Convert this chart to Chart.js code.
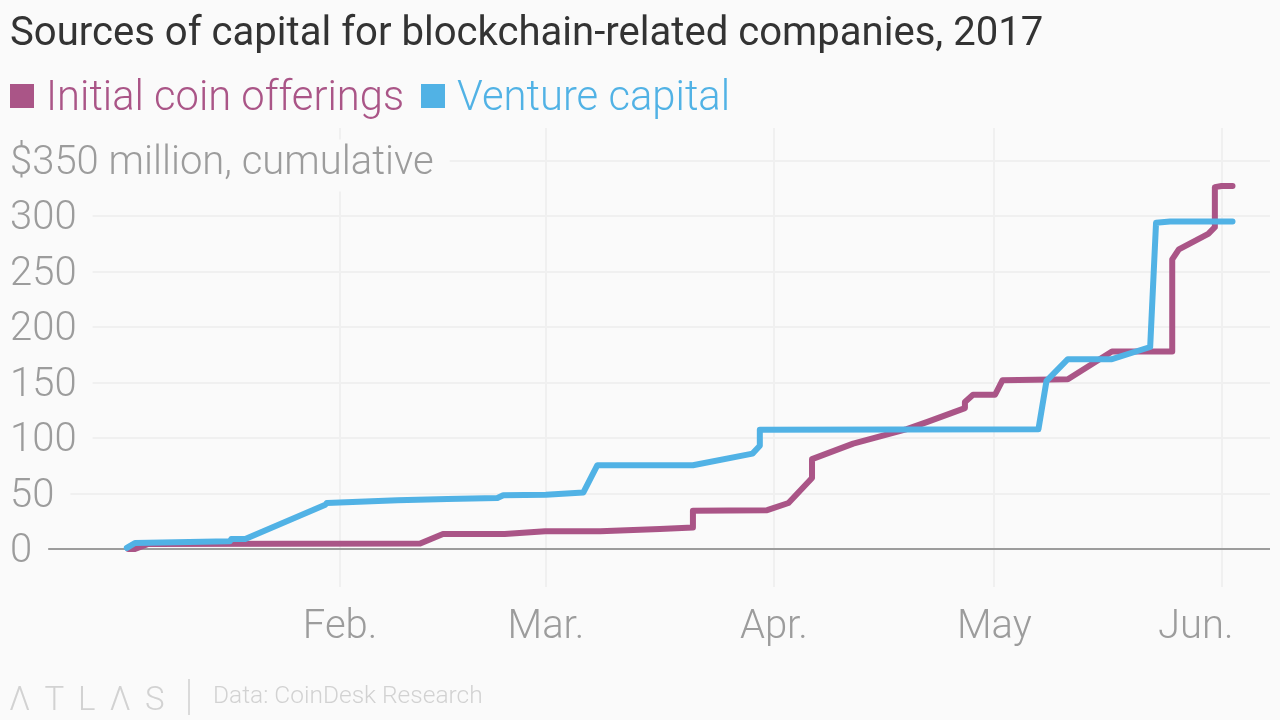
<!DOCTYPE html>
<html>
<head>
<meta charset="utf-8">
<script src="https://cdn.jsdelivr.net/npm/chart.js@4/dist/chart.umd.min.js"></script>
<style>
html,body{margin:0;padding:0;background:#fafafa;overflow:hidden}
#wrap{position:relative;width:1280px;height:720px}
canvas{position:absolute;left:0;top:0}
.txt{position:absolute;font-family:Roboto,sans-serif;white-space:nowrap;line-height:1}
#title{left:10px;top:12px;font-size:40.1px;font-weight:400;color:#333}
#leg1{left:46px;top:75px;font-size:41.7px;font-weight:300;color:#aa5587}
#leg2{left:457px;top:75px;font-size:41.8px;font-weight:300;color:#51b2e5}
.box{position:absolute;top:84px;width:24px;height:24px}
#logo{left:9px;top:682px;font-size:33px;font-weight:300;color:#d2d2d2;letter-spacing:14px}
#rule{position:absolute;left:188px;top:679px;width:2px;height:36px;background:#dadada}
#source{left:213px;top:683px;font-size:24.5px;font-weight:300;color:#d2d2d2}
</style>
</head>
<body>
<div id="wrap">
<canvas id="chart" width="1280" height="720"></canvas>
<div class="txt" id="title">Sources of capital for blockchain-related companies, 2017</div>
<div class="box" style="left:10px;background:#aa5587"></div>
<div class="txt" id="leg1">Initial coin offerings</div>
<div class="box" style="left:421px;background:#51b2e5"></div>
<div class="txt" id="leg2">Venture capital</div>
<div class="txt" id="logo">ΛTLΛS</div>
<div id="rule"></div>
<div class="txt" id="source">Data: CoinDesk Research</div>
</div>
<script>
// days counted from Jan. 1 2017
const icoDays=[2.2,3.1,4.9,41.9,45,53.4,58.9,66.4,74.5,79,79,89.1,92,95.2,95.2,100.8,108.1,110.9,116,116,117.1,120.1,121.1,130,136,144.2,144.2,145.1,149.1,150,150,150.9,152.4];
const icoValues=[0,0,4.5,5,13.5,13.5,16,16,18,19.5,34.5,35,41.5,64,81,95,108,114.5,127,132.5,139,139,152,153,178,178,261,270,284,290,326,327,327];
const vcDays=[2,3.1,16,16.2,18.1,29,29.2,38.8,45.6,52.4,53.2,59,64.1,66,79,87.1,88.1,88.1,126,127.1,130,136,141.2,142,143.9,152.4];
const vcValues=[1,5.5,7,9,9,40,41.5,44,45,46,48.5,49,51,75.5,75.5,86,93,107.5,108,151.5,171,171,182,294,295,295];
const yTicks=[0,50,100,150,200,250,300,350];
const yLabels=['0','50','100','150','200','250','300','$350 million, cumulative'];
// Jun. label sits left of its gridline, so it gets its own tick
const xTicks=[31,59,90,120,147.4,151];
const xLabels=['Feb.','Mar.','Apr.','May','Jun.',''];
const xNoGrid=147.4;

const toPoints=(xs,ys)=>xs.map((x,i)=>({x,y:ys[i]}));
const PURPLE='#aa5587',BLUE='#51b2e5',GREY='#9c9c9c',GRID='#f0f0f0',BG='#fafafa';
const TICKFONT='Roboto, sans-serif';

new Chart(document.getElementById('chart').getContext('2d'),{
  type:'line',
  data:{datasets:[
    {label:'Initial coin offerings',data:toPoints(icoDays,icoValues),borderColor:PURPLE,backgroundColor:PURPLE,order:2},
    {label:'Venture capital',data:toPoints(vcDays,vcValues),borderColor:BLUE,backgroundColor:BLUE,order:1},
  ]},
  options:{
    responsive:false,animation:false,
    layout:{padding:{left:10,right:10,top:128,bottom:73}},
    elements:{
      point:{radius:0},
      line:{borderWidth:6,tension:0,borderCapStyle:'round',borderJoinStyle:'round'},
    },
    plugins:{tooltip:{enabled:false},title:{display:false},legend:{display:false}},
    scales:{
      x:{type:'linear',min:-13.9,max:157.5,
        afterBuildTicks:s=>{s.ticks=xTicks.map(value=>({value}));},
        afterFit:s=>{s.height=60;},
        border:{display:false},
        grid:{drawTicks:false,lineWidth:2,color:c=>c.tick&&c.tick.value===xNoGrid?'rgba(0,0,0,0)':GRID},
        ticks:{autoSkip:false,maxRotation:0,color:GREY,padding:17,font:{family:TICKFONT,size:40,weight:'300'},
          callback:(v,i)=>xLabels[i]},
      },
      y:{min:-34.2,max:379.3,
        afterBuildTicks:s=>{s.ticks=yTicks.map(value=>({value}));},
        afterFit:s=>{s.width=0;},
        border:{display:false},
        grid:{drawTicks:false,lineWidth:2,color:c=>c.tick&&c.tick.value===0?GREY:GRID},
        ticks:{mirror:true,autoSkip:false,padding:0,color:GREY,labelOffset:3,font:{family:TICKFONT,size:40,weight:'300'},
          showLabelBackdrop:true,backdropColor:BG,backdropPadding:{left:0,right:16,top:0,bottom:4},
          callback:(v,i)=>yLabels[i]},
      },
    },
  },
});
</script>
</body>
</html>
